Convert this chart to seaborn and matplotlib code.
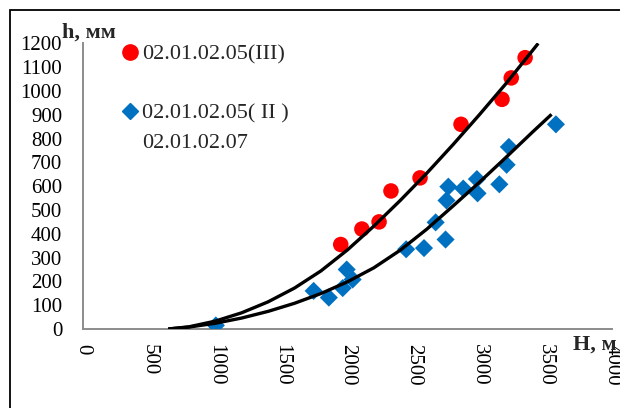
import matplotlib
matplotlib.use("Agg")
import matplotlib.pyplot as plt
import seaborn as sns
from matplotlib.lines import Line2D
from matplotlib.patches import Rectangle

# Measured points: altitude H (m) vs. snow depth h (mm)
red_H = [1950, 2110, 2240, 2330, 2550, 2860, 3170, 3240, 3345]
red_h = [355, 420, 450, 580, 635, 860, 965, 1055, 1140]

blue_H = [1005, 1745, 1860, 1965, 1995, 2040, 2445, 2580, 2668, 2743,
          2750, 2764, 2877, 2980, 2985, 3150, 3205, 3222, 3578]
blue_h = [15, 160, 132, 172, 250, 208, 335, 340, 448, 376,
          540, 598, 590, 630, 570, 608, 690, 765, 860]

# Trend curves
upper_H = [645, 800, 1000, 1200, 1400, 1600, 1800, 2000, 2200, 2400,
           2600, 2800, 3000, 3200, 3444]
upper_h = [0, 9, 33, 68, 114, 172, 244, 332, 432, 540,
           654, 775, 901, 1031, 1200]

lower_H = [645, 800, 1000, 1200, 1400, 1600, 1800, 2000, 2200, 2400,
           2600, 2800, 3000, 3200, 3400, 3545]
lower_h = [0, 8, 24, 46, 74, 108, 149, 198, 257, 331,
           419, 517, 617, 721, 827, 902]

x_ticks = list(range(0, 4001, 500))
y_ticks = list(range(0, 1201, 100))

label_red = "02.01.02.05(III)"
label_blue = "02.01.02.05( II )"
label_extra = "02.01.02.07"

RED = "#FF0000"
BLUE = "#0070C0"
GREY = "#8C8C8C"

sns.set_theme(style="white")
plt.rcParams["font.family"] = ["Liberation Serif", "DejaVu Serif"]

W, H = 620, 408
fig = plt.figure(figsize=(W / 100, H / 100), dpi=100)
ax = fig.add_axes([83 / W, 1 - 329 / H, (611.7 - 83) / W, (329 - 43.4) / H])

sns.scatterplot(x=red_H, y=red_h, ax=ax, color=RED, marker="o", s=125,
                edgecolor="none", linewidth=0, zorder=3, legend=False)
sns.scatterplot(x=blue_H, y=blue_h, ax=ax, color=BLUE, marker="D", s=85,
                edgecolor="none", linewidth=0, zorder=3, legend=False)
sns.lineplot(x=upper_H, y=upper_h, ax=ax, sort=False, estimator=None,
             color="black", lw=2.4, zorder=4, legend=False)
sns.lineplot(x=lower_H, y=lower_h, ax=ax, sort=False, estimator=None,
             color="black", lw=2.4, zorder=4, legend=False)
for ln in ax.lines:
    ln.set_solid_joinstyle("round")
    ln.set_solid_capstyle("butt")

ax.set_xlim(0, 4000)
ax.set_ylim(0, 1200)
ax.set_xticks(x_ticks)
ax.set_yticks(y_ticks)
ax.set_xticklabels([str(t) for t in x_ticks], rotation=270)
ax.set_yticklabels([str(t) for t in y_ticks])
ax.set_xlabel("")
ax.set_ylabel("")

ax.tick_params(direction="in", length=6, width=1.2, color=GREY,
               labelsize=15, labelcolor="black")
ax.tick_params(axis="y", pad=15)
ax.tick_params(axis="x", pad=11)
for side in ("top", "right"):
    ax.spines[side].set_visible(False)
for side in ("left", "bottom"):
    ax.spines[side].set_color(GREY)
    ax.spines[side].set_linewidth(1.4)

# Axis titles
fig.text(62 / W, 1 - 33 / H, "h, мм", fontsize=16, fontweight="bold",
         ha="left", va="center")
fig.text(573 / W, 1 - 345 / H, "H, м", fontsize=16, fontweight="bold",
         ha="left", va="center")

# Legend
handles = [
    Line2D([], [], ls="none", marker="o", color=RED, markersize=11),
    Line2D([], [], ls="none"),
    Line2D([], [], ls="none", marker="D", color=BLUE, markersize=8),
    Line2D([], [], ls="none"),
]
labels = [label_red, " ", label_blue, label_extra]
ax.legend(handles, labels, loc="upper left",
          bbox_to_anchor=(122 / W, 1 - 44 / H), bbox_transform=fig.transFigure,
          frameon=False, fontsize=16, handlelength=0.75, handletextpad=0.15,
          labelspacing=0.4, borderpad=0, borderaxespad=0)

# Outer frame
fig.patches.append(Rectangle((10 / W, -0.1), 1.5, 1 - 10 / H + 0.1,
                             transform=fig.transFigure, fill=False,
                             edgecolor="black", lw=1.3, zorder=10))

fig.savefig("out.png", dpi=100)
